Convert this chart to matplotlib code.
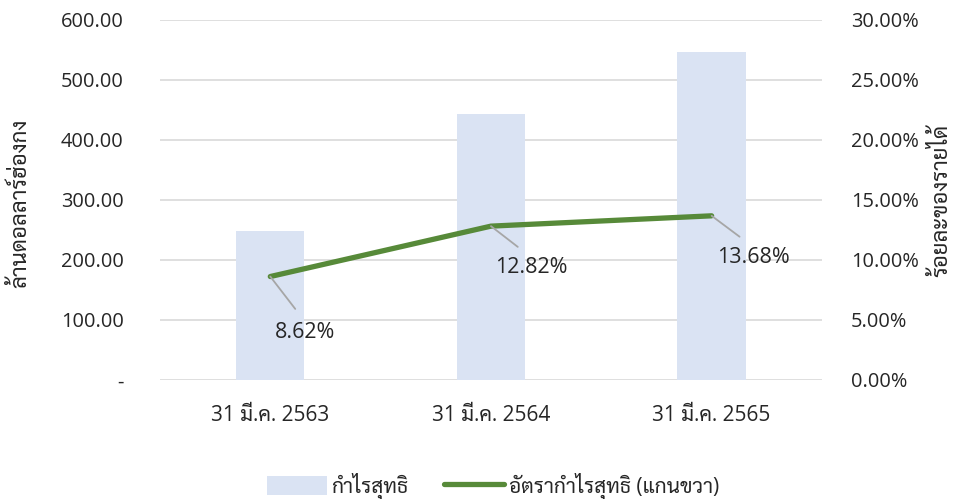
import matplotlib
matplotlib.use('Agg')
import numpy as np
import matplotlib.pyplot as plt
from matplotlib.ticker import FuncFormatter, MultipleLocator

plt.rcParams['font.family'] = ['Open Sans', 'Sarabun']

categories = ['31 มี.ค. 2563', '31 มี.ค. 2564', '31 มี.ค. 2565']
net_profit = [248.0, 443.0, 547.0]          # ล้านดอลลาร์ฮ่องกง
margin = [8.62, 12.82, 13.68]                 # %
label_offsets = [(25, -40), (29, -30), (30, -30)]

bar_color = '#dae3f3'
line_color = '#578a39'
grid_color = '#d9d9d9'
text_color = '#262626'

fig = plt.figure(figsize=(9.59, 4.99), dpi=100)
ax = fig.add_axes([0.1668, 0.2385, 0.6903, 0.7215])
ax2 = ax.twinx()

x = np.arange(len(categories))
ax.bar(x, net_profit, width=0.31, color=bar_color, zorder=2, label='กำไรสุทธิ')
ax.set_xlim(-0.5, len(categories) - 0.5)
ax.set_ylim(0, 600)
ax.yaxis.set_major_locator(MultipleLocator(100))
ax.yaxis.set_major_formatter(FuncFormatter(lambda v, p: '-' if v == 0 else '%.2f' % v))
ax.grid(axis='y', color=grid_color, linewidth=1.2, zorder=0)
ax.set_axisbelow(True)
ax.set_xticks(x)
ax.set_xticklabels(categories)
ax.tick_params(axis='y', length=0, labelsize=14.4, labelcolor=text_color, pad=26)
ax.tick_params(axis='x', length=0, labelsize=15, labelcolor=text_color, pad=18)
ax.set_ylabel('ล้านดอลลาร์ฮ่องกง', fontsize=16, color=text_color)
ax.yaxis.set_label_coords(-0.194, 0.49)

ax2.plot(x, margin, color=line_color, linewidth=3.8, solid_capstyle='round',
         zorder=3, label='อัตรากำไรสุทธิ (แกนขวา)')
ax2.set_ylim(0, 30)
ax2.yaxis.set_major_locator(MultipleLocator(5))
ax2.yaxis.set_major_formatter(FuncFormatter(lambda v, p: '%.2f%%' % v))
ax2.tick_params(axis='y', length=0, labelsize=14.4, labelcolor=text_color, pad=21)
ax2.set_ylabel('ร้อยละของรายได้', fontsize=16, color=text_color)
ax2.yaxis.set_label_coords(1.164, 0.5)

for xi, m, off in zip(x, margin, label_offsets):
    ax2.annotate('%.2f%%' % m, xy=(xi, m), xytext=off, textcoords='offset points',
                 ha='center', va='center', fontsize=15.5, color=text_color,
                 arrowprops=dict(arrowstyle='-', color='#a6a6a6', linewidth=1.3,
                                 relpos=(0.5, 1.0), shrinkA=9, shrinkB=0))

for a in (ax, ax2):
    for s in a.spines.values():
        s.set_visible(False)

h1, l1 = ax.get_legend_handles_labels()
h2, l2 = ax2.get_legend_handles_labels()
fig.legend(h1 + h2, l1 + l2, loc='center', bbox_to_anchor=(0.514, 0.026), ncol=2,
           frameon=False, fontsize=15, handlelength=2.9, handleheight=1.0,
           handletextpad=0.2, columnspacing=1.7, labelcolor=text_color)

fig.savefig('out.png', dpi=100)
